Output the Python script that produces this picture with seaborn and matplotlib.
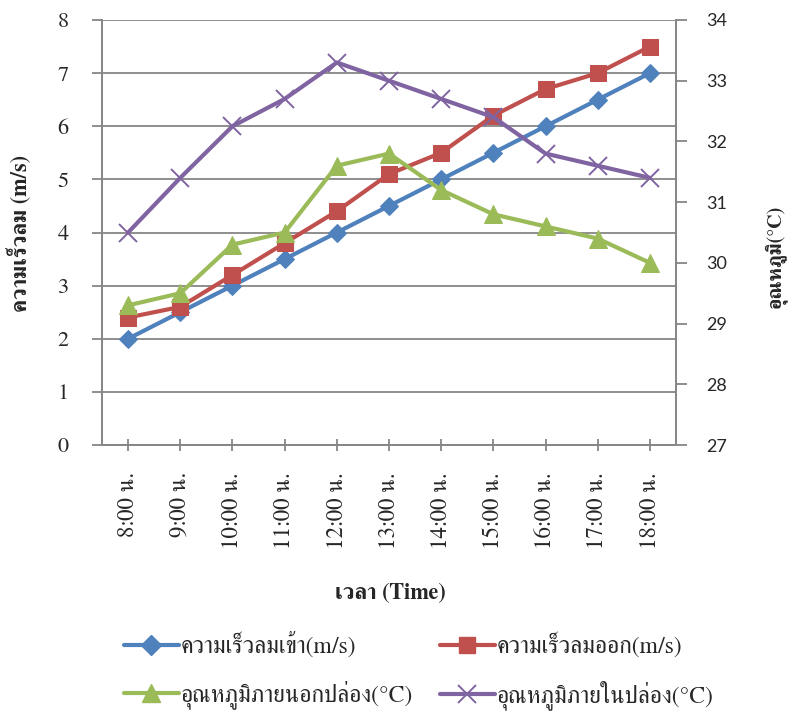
import matplotlib
matplotlib.use("Agg")
import matplotlib.pyplot as plt
from matplotlib.lines import Line2D
import numpy as np
import pandas as pd
import seaborn as sns

# ---- data ----
times = ["8:00 น.", "9:00 น.", "10:00 น.", "11:00 น.", "12:00 น.", "13:00 น.",
         "14:00 น.", "15:00 น.", "16:00 น.", "17:00 น.", "18:00 น."]
wind_in = [2.0, 2.5, 3.0, 3.5, 4.0, 4.5, 5.0, 5.5, 6.0, 6.5, 7.0]
wind_out = [2.4, 2.6, 3.2, 3.8, 4.4, 5.1, 5.5, 6.2, 6.7, 7.0, 7.5]
temp_outside = [29.3, 29.5, 30.3, 30.5, 31.6, 31.8, 31.2, 30.8, 30.6, 30.4, 30.0]
temp_inside = [30.5, 31.4, 32.25, 32.7, 33.3, 33.0, 32.7, 32.4, 31.8, 31.6, 31.4]

label_in = "ความเร็วลมเข้า(m/s)"
label_out = "ความเร็วลมออก(m/s)"
label_tout = "อุณหภูมิภายนอกปล่อง(°C)"
label_tin = "อุณหภูมิภายในปล่อง(°C)"

left_ticks = [0, 1, 2, 3, 4, 5, 6, 7, 8]
right_ticks = [27, 28, 29, 30, 31, 32, 33, 34]

BLUE, RED, GREEN, PURPLE = "#4F81BD", "#C0504D", "#9BBB59", "#8064A2"
GRID = "#868686"

sns.set_style("white")
plt.rcParams["font.family"] = ["FreeSerif", "DejaVu Sans"]

pos = np.arange(len(times))
df = pd.DataFrame({"pos": pos, "wind_in": wind_in, "wind_out": wind_out,
                   "temp_outside": temp_outside, "temp_inside": temp_inside})

fig = plt.figure(figsize=(7.99, 7.11), dpi=100)
ax = fig.add_axes([102 / 799, (711 - 445) / 711, (676 - 102) / 799, 425 / 711])
ax2 = ax.twinx()

lw = 3.0
sns.lineplot(data=df, x="pos", y="wind_in", ax=ax, color=BLUE, lw=lw,
             marker="D", markersize=9, markeredgecolor=BLUE, label=label_in, legend=False)
sns.lineplot(data=df, x="pos", y="wind_out", ax=ax, color=RED, lw=lw,
             marker="s", markersize=12, markeredgecolor=RED, label=label_out, legend=False)
sns.lineplot(data=df, x="pos", y="temp_outside", ax=ax2, color=GREEN, lw=lw,
             marker="^", markersize=13, markeredgecolor=GREEN, label=label_tout, legend=False)
sns.lineplot(data=df, x="pos", y="temp_inside", ax=ax2, color=PURPLE, lw=lw,
             marker="x", markersize=13, markeredgewidth=1.4, markeredgecolor=PURPLE,
             label=label_tin, legend=False)

# left axis: wind speed
ax.set_xlim(-0.5, len(times) - 0.5)
ax.set_ylim(0, 8)
ax.set_yticks(left_ticks)
ax.set_yticklabels([str(t) for t in left_ticks])
ax.yaxis.grid(True, color=GRID, lw=1.3)
ax.set_axisbelow(True)
ax.tick_params(axis="y", direction="out", length=7, width=1.3, color=GRID,
               pad=17, labelsize=16, left=True)
ax.set_xticks(pos)
ax.set_xticklabels(times, rotation=90, fontsize=16.5)
ax.tick_params(axis="x", direction="inout", length=9, width=1.3, color=GRID,
               pad=15, bottom=True)
ax.set_xlabel("")
ax.set_ylabel("")

# right axis: temperature
ax2.set_ylim(27, 34)
ax2.set_yticks(right_ticks)
ax2.set_yticklabels([str(t) for t in right_ticks], family="Lato", fontsize=13)
ax2.tick_params(axis="y", which="major", direction="out", length=8, width=1.3,
                color=GRID, pad=14, right=True, labelright=True)
ax2.set_ylabel("")

for a in (ax, ax2):
    a.spines["top"].set_visible(False)
    for side in ("left", "right", "bottom"):
        a.spines[side].set_color(GRID)
        a.spines[side].set_linewidth(1.3)

fig.text(390 / 799, 1 - 594 / 711, "เวลา (Time)", ha="center", va="center",
         fontsize=16, fontweight="bold")
fig.text(20 / 799, 1 - 233 / 711, "ความเร็วลม (m/s)", ha="center", va="center",
         rotation=90, fontsize=16, fontweight="bold")
fig.text(775 / 799, 1 - 256 / 711, "อุณหภูมิ(°C)", ha="center", va="center",
         rotation=90, fontsize=14.5, fontweight="bold")

# legend, two columns: inflow/outflow on top, temperatures below
handles = [
    Line2D([], [], color=BLUE, lw=lw, marker="D", markersize=10, markeredgecolor=BLUE),
    Line2D([], [], color=GREEN, lw=lw, marker="^", markersize=13, markeredgecolor=GREEN),
    Line2D([], [], color=RED, lw=lw, marker="s", markersize=12, markeredgecolor=RED),
    Line2D([], [], color=PURPLE, lw=lw, marker="x", markersize=13, markeredgewidth=1.4,
           markeredgecolor=PURPLE),
]
labels = [label_in, label_tout, label_out, label_tin]
fig.legend(handles, labels, ncol=2, loc="center", bbox_to_anchor=(419 / 799, 1 - 671 / 711),
           frameon=False, fontsize=17, handlelength=2.3, handletextpad=0.1,
           columnspacing=1.15, labelspacing=0.95)

fig.savefig("out.png", dpi=100)
